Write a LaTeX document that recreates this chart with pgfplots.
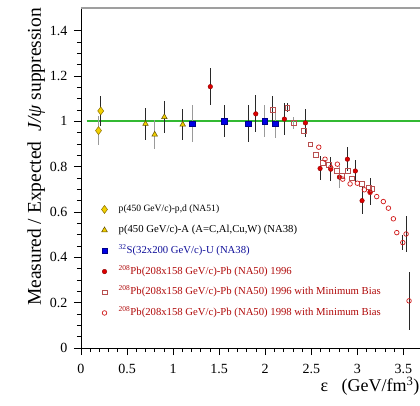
\documentclass[border=0pt]{standalone}
\usepackage{fontspec}
\setmainfont{Liberation Serif}
\usepackage{xcolor}
\usepackage{pgfplots}
\pgfplotsset{compat=1.18}

\definecolor{linegreen}{RGB}{50,185,50}
\definecolor{goldfill}{RGB}{242,208,0}
\definecolor{golddraw}{RGB}{140,112,0}
\definecolor{sqblue}{RGB}{0,0,230}
\definecolor{navytext}{RGB}{16,16,154}
\definecolor{pbred}{RGB}{221,0,0}
\definecolor{pbdark}{RGB}{138,0,0}
\definecolor{rosesq}{RGB}{184,80,80}
\definecolor{circred}{RGB}{208,24,24}
\definecolor{redtext}{RGB}{176,10,10}
\definecolor{barblack}{RGB}{40,40,40}
\definecolor{bargray}{RGB}{154,154,154}

\pgfplotsset{
  blackbars/.style={error bars/.cd, y dir=both, y explicit, error mark=none,
    error bar style={line width=0.9pt, barblack}},
  graybars/.style={error bars/.cd, y dir=both, y explicit, error mark=none,
    error bar style={line width=0.9pt, bargray}},
}

\begin{document}
\begin{tikzpicture}
\begin{axis}[
  scale only axis, width=339pt, height=340pt,
  xmin=0, xmax=3.68, ymin=0, ymax=1.5,
  axis x line*=bottom, axis y line*=left,
  axis line style={line width=0.8pt, black},
  tick align=outside,
  xtick={0,0.5,...,3.5}, ytick={0,0.2,...,1.4},
  minor x tick num=4, minor y tick num=3,
  major tick length=7pt, minor tick length=4pt,
  tick style={line width=0.7pt, black},
  /pgf/number format/assume math mode=true,
  tick label style={font=\fontsize{14}{16}\selectfont},
  xticklabel style={yshift=-6pt},
  yticklabel style={xshift=-3pt},
  xlabel={ε\ \ \ (GeV/fm\textsuperscript{3})},
  xlabel style={font=\fontsize{18}{20}\selectfont, at={(ticklabel cs:1)},
    anchor=north east, xshift=3pt, yshift=4pt},
  ylabel={Measured / Expected\ \ \textit{J/ψ} suppression},
  ylabel style={font=\fontsize{19.5}{22}\selectfont, at={(ticklabel cs:1.01)},
    anchor=south east, yshift=-2pt},
  legend cell align=left,
  legend image code/.code={\path (0pt,0pt) (21pt,0pt);
    \draw[mark repeat=2,mark phase=2,#1]
    plot coordinates {(0pt,0pt) (7pt,0pt) (14pt,0pt)};},
  legend style={at={(axis cs:0.175,0.632)}, anchor=north west, draw=none,
    fill=none, inner sep=0pt, font=\fontsize{10.7}{12}\selectfont,
    row sep=11.7pt,
    nodes={inner sep=0pt, text height=7pt, text depth=2pt}},
]
% reference line at 1
\addplot[draw=linegreen, line width=2.2pt, forget plot]
  coordinates {(0.06,1) (3.68,1)};

% NA51 p-p,d
\addplot[only marks, mark=diamond*, mark size=4pt,
  mark options={fill=goldfill, draw=golddraw, line width=0.5pt}, forget plot, graybars]
  coordinates {(0.19,0.959) +- (0,0.065)};
\addplot[only marks, mark=diamond*, mark size=4pt,
  mark options={fill=goldfill, draw=golddraw, line width=0.5pt}, blackbars]
  coordinates {(0.214,1.046) +- (0,0.067)};
\addlegendentry{\fontsize{9.6}{11}\selectfont p(450 GeV/c)-p,d (NA51)}

% NA38 p-A
\addplot[only marks, mark=triangle*, mark size=3.2pt,
  mark options={fill=goldfill, draw=golddraw!70!black, line width=0.5pt}, forget plot, graybars]
  coordinates {(0.80,0.942) +- (0,0.066)};
\addplot[only marks, mark=triangle*, mark size=3.2pt,
  mark options={fill=goldfill, draw=golddraw!70!black, line width=0.5pt}, blackbars]
  coordinates {
  (0.70,0.989) +- (0,0.072)
  (0.905,1.019) +- (0,0.072)
  (1.104,0.986) +- (0,0.070)
  };
\addlegendentry{p(450 GeV/c)-A (A=C,Al,Cu,W) (NA38)}

% NA38 S-U
\addplot[only marks, mark=square*, mark size=2.8pt,
  mark options={fill=sqblue, draw=sqblue!60!black, line width=0.4pt}, forget plot, graybars]
  coordinates {
  (1.205,0.990) +- (0,0.080)
  (1.994,1.001) +- (0,0.070)
  (2.106,0.990) +- (0,0.062)
  };
\addplot[only marks, mark=square*, mark size=2.8pt,
  mark options={fill=sqblue, draw=sqblue!60!black, line width=0.4pt}, blackbars]
  coordinates {
  (1.556,1.001) +- (0,0.071)
  (1.817,0.990) +- (0,0.080)
  };
\addlegendentry{\textcolor{navytext}{\textsuperscript{32}S(32x200 GeV/c)-U (NA38)}}

% NA50 1996
\addplot[only marks, mark=*, mark size=2.3pt,
  mark options={fill=pbred, draw=pbdark, line width=0.4pt}, forget plot, graybars]
  coordinates {
  (2.805,0.754) +- (0,0.050)
  };
\addplot[only marks, mark=*, mark size=2.3pt,
  mark options={fill=pbred, draw=pbdark, line width=0.4pt}, blackbars]
  coordinates {
  (1.404,1.153) +- (0,0.081)
  (1.897,1.033) +- (0,0.081)
  (2.208,1.010) +- (0,0.072)
  (2.436,0.993) +- (0,0.060)
  (2.595,0.792) +- (0,0.053)
  (2.711,0.789) +- (0,0.053)
  (2.892,0.833) +- (0,0.052)
  (2.978,0.781) +- (0,0.050)
  (3.051,0.650) +- (0,0.060)
  (3.138,0.689) +- (0,0.060)
  };
\addlegendentry{\textcolor{redtext}{\textsuperscript{208}Pb(208x158 GeV/c)-Pb (NA50) 1996}}

% NA50 1996 minimum bias
\addplot[only marks, mark=square, mark size=2.4pt,
  mark options={draw=rosesq, line width=0.6pt}, forget plot, graybars]
  coordinates {
  (2.309,0.993) +- (0,0.027)
  };
\addplot[only marks, mark=square, mark size=2.4pt,
  mark options={draw=rosesq, line width=0.6pt}, blackbars]
  coordinates {
  (2.081,1.051) +- (0,0.060)
  (2.240,1.061) +- (0,0.020)
  (2.418,0.957) +- (0,0)
  (2.490,0.899) +- (0,0)
  (2.548,0.852) +- (0,0)
  (2.624,0.818) +- (0,0)
  (2.686,0.807) +- (0,0)
  (2.776,0.781) +- (0,0)
  (2.830,0.761) +- (0,0)
  (2.895,0.781) +- (0,0)
  (2.939,0.749) +- (0,0)
  (3.048,0.724) +- (0,0)
  (3.120,0.709) +- (0,0)
  (3.163,0.702) +- (0,0)
  };
\addlegendentry{\textcolor{redtext}{\textsuperscript{208}Pb(208x158 GeV/c)-Pb (NA50) 1996 with Minimum Bias}}

% NA50 1998 minimum bias
\addplot[only marks, mark=o, mark size=2.3pt,
  mark options={draw=circred, line width=0.7pt}, blackbars]
  coordinates {
  (2.581,0.886) +- (0,0)
  (2.649,0.833) +- (0,0)
  (2.711,0.796) +- (0,0)
  (2.783,0.811) +- (0,0)
  (2.841,0.745) +- (0,0)
  (2.921,0.724) +- (0,0)
  (3.000,0.727) +- (0,0)
  (3.076,0.698) +- (0,0)
  (3.138,0.686) +- (0,0)
  (3.210,0.668) +- (0,0)
  (3.282,0.646) +- (0,0)
  (3.337,0.617) +- (0,0)
  (3.391,0.570) +- (0,0)
  (3.428,0.509) +- (0,0)
  (3.493,0.465) +- (0,0.033)
  (3.529,0.503) +- (0,0.080)
  (3.561,0.208) +- (0,0.127)
  };
\addlegendentry{\textcolor{redtext}{\textsuperscript{208}Pb(208x158 GeV/c)-Pb (NA50) 1998 with Minimum Bias}}

% top frame line
\draw[gray!75, line width=1.6pt] (rel axis cs:0,1) -- (rel axis cs:1,1);
\end{axis}
\pgfresetboundingbox
\path[use as bounding box] (-81pt,-57pt) rectangle (339pt,348pt);
\end{tikzpicture}
\end{document}
